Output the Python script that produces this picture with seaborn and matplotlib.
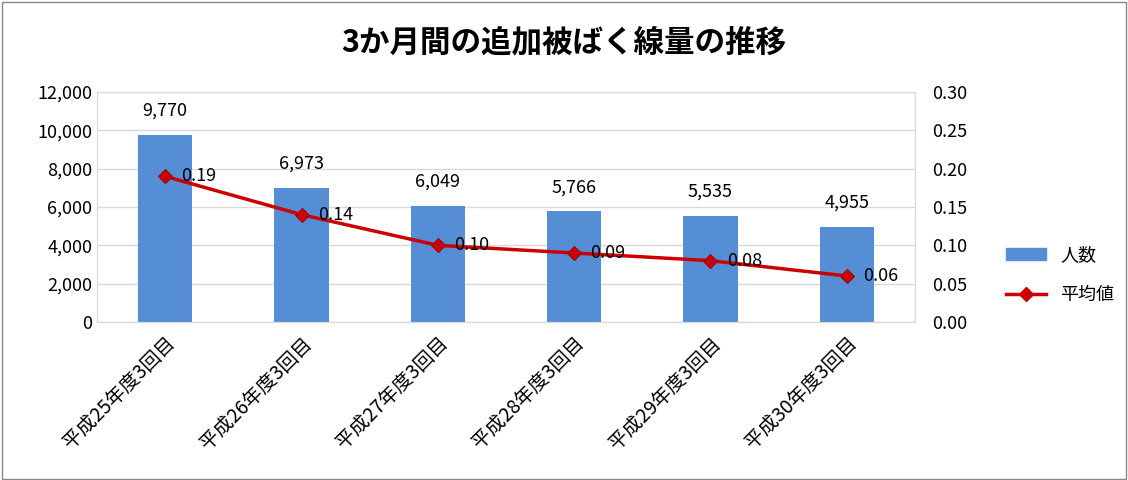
import matplotlib
matplotlib.use("Agg")
import matplotlib.pyplot as plt
import seaborn as sns
import pandas as pd
from matplotlib.lines import Line2D
from matplotlib.patches import Patch

categories = ["平成25年度3回目", "平成26年度3回目", "平成27年度3回目", "平成28年度3回目", "平成29年度3回目", "平成30年度3回目"]
people = [9770, 6973, 6049, 5766, 5535, 4955]
averages = [0.19, 0.14, 0.10, 0.09, 0.08, 0.06]
title = "3か月間の追加被ばく線量の推移"

plt.rcParams["font.family"] = "Noto Sans CJK JP"
df = pd.DataFrame({"cat": categories, "people": people, "avg": averages})

fig = plt.figure(figsize=(11.28, 4.8), dpi=100)
fig.patches.append(plt.Rectangle((0.002, 0.002), 0.996, 0.994, transform=fig.transFigure,
                                 fill=False, edgecolor="#888888", linewidth=1))
ax = fig.add_axes([97/1128, 1-322/480, (915-97)/1128, (322-92)/480])
sns.barplot(data=df, x="cat", y="people", color="#558ed5", width=0.4, saturation=1, ax=ax)
ax.set_ylim(0, 12000)
ax.set_yticks(range(0, 12001, 2000))
ax.set_yticklabels([f"{v:,}" for v in range(0, 12001, 2000)], fontsize=13)
ax.set_xlim(-0.5, 5.5)
ax.set_xlabel(""); ax.set_ylabel("")
ax.set_xticks(range(6))
ax.set_xticklabels(categories, rotation=45, ha="right", rotation_mode="anchor", fontsize=14)
ax.tick_params(length=0)
ax.tick_params(axis="x", pad=8)
ax.grid(axis="y", color="#d9d9d9", linewidth=1)
ax.set_axisbelow(True)
for s in ax.spines.values():
    s.set_color("#d9d9d9")
for i, v in enumerate(people):
    ax.text(i, v + 800, f"{v:,}", ha="center", va="bottom", fontsize=13)

ax2 = ax.twinx()
sns.lineplot(x=list(range(6)), y=averages, ax=ax2, color="#cc0000", linewidth=2.5,
             marker="D", markersize=7, markerfacecolor="#cc0000", markeredgecolor="#990000")
ax2.set_ylim(0, 0.30)
ax2.set_yticks([i*0.05 for i in range(7)])
ax2.set_yticklabels([f"{i*0.05:.2f}" for i in range(7)], fontsize=13)
ax2.tick_params(length=0, pad=12)
for s in ax2.spines.values():
    s.set_color("#d9d9d9")
for i, v in enumerate(averages):
    ax2.text(i + 0.12, v, f"{v:.2f}", ha="left", va="center", fontsize=13)

fig.text(0.5, 1-42/480, title, ha="center", va="center", fontsize=22, fontweight="bold")
handles = [Patch(color="#558ed5"),
           Line2D([0], [0], color="#cc0000", linewidth=2.5, marker="D", markersize=7)]
fig.legend(handles, ["人数", "平均値"], loc="center left", bbox_to_anchor=(990/1128, 1-275/480),
           frameon=False, fontsize=13, handlelength=2.2, labelspacing=1.2)
fig.savefig("out.png", dpi=100)
